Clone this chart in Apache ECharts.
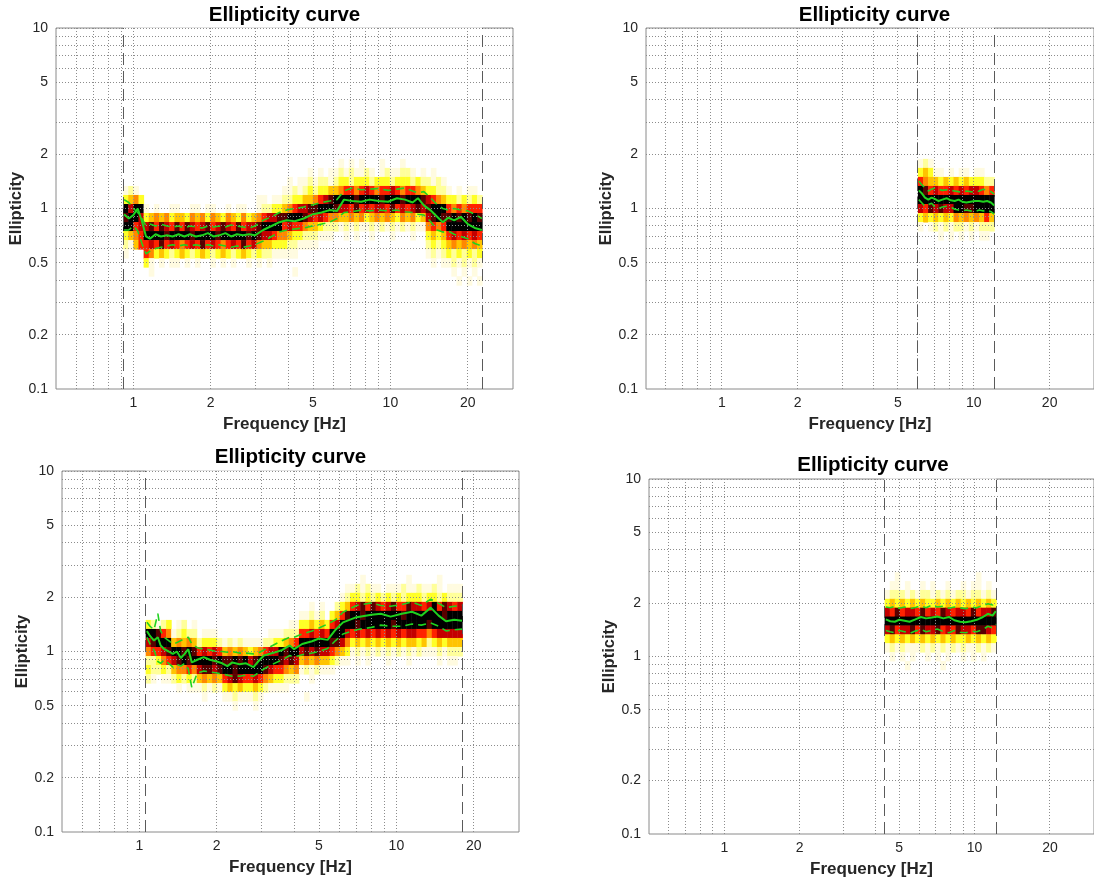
<!DOCTYPE html>
<html><head><meta charset="utf-8">
<script src="https://cdn.jsdelivr.net/npm/echarts@6/dist/echarts.min.js"></script>
<style>html,body{margin:0;padding:0;background:#fff}#c{width:1094px;height:882px}</style>
</head><body><div id="c"></div>
<script>
// ---------------- data ----------------
const xTickLabels = [1, 2, 5, 10, 20];
const yTickLabels = [0.1, 0.2, 0.5, 1, 2, 5, 10];
const xGridValues = [0.6, 0.7, 0.8, 0.9, 1, 2, 3, 4, 5, 6, 7, 8, 9, 10, 20];
const yGridValues = [0.2, 0.3, 0.4, 0.5, 0.6, 0.7, 0.8, 0.9, 1, 2, 3, 4, 5, 6, 7, 8, 9, 10];
const freqRange = [0.5, 30];
const ellRange = [0.1, 10];
const titleText = 'Ellipticity curve';
const xName = 'Frequency [Hz]';
const yName = 'Ellipticity';

// histogram rows: top row first; digit = density level (0 empty .. 9 black)
// row k is centred on ellipticity 10^(0.05*k)
const p1Limits = [0.912, 22.75];
const p1TopK = 5;
const p1Rows = [
 "0000 0000000000000000000000 00000 000000 000001 0101000100010000 0000 0000000",
 "0000 0000000000000000000000 00000 000001 010112 1211210121122101 0100 0000000",
 "0000 0000000000000000000000 00000 010112 122123 3233323332333232 2121 0000000",
 "1210 0000000000000000000000 00000 112123 233445 6656765667656654 3322 1010110",
 "3453 0000000000000000000000 11011 223344 567899 9989999899989998 7654 3323232",
 "9799 1010011001101100101100 12233 456778 899987 7686767768676787 8999 6565666",
 "8997 3454534435453543543534 56778 899987 676554 4545345454354534 7898 8989898",
 "9967 7868768687678678768677 89999 676654 432221 2121121212121211 5656 9999999",
 "3456 9999899998999989999989 87765 543322 211100 1010010001000100 3434 6767676",
 "2146 6768676567686765676867 54433 322111 100000 0000000000000000 2323 4545454",
 "1000 6534323432343234323432 32211 111000 000000 0000000000000000 1212 3232323",
 "0000 3101011010100101010010 10100 000000 000000 0000000000000000 0101 1212121",
 "0000 0100000000000000000000 00000 001000 000000 0000000000000000 0000 0101010",
 "0000 0000000000000000000000 00000 000000 000000 0000000000000000 0000 0010101"
];
const p1Freq   = [0.92,0.96,1.0,1.04,1.08,1.12,1.16,1.22,1.28,1.35,1.42,1.5,1.58,1.66,1.75,1.85,1.95,2.05,2.16,2.28,2.4,2.53,2.67,2.82,2.97,3.2,3.45,3.7,3.95,4.25,4.6,5.0,5.4,5.8,6.2,6.6,7.1,7.7,8.3,9.0,9.8,10.6,11.4,12.2,12.8,13.5,14.3,15.2,16.0,16.8,17.7,18.8,20.0,21.3,22.7];
const p1Median = [0.93,0.88,0.92,1.0,0.85,0.70,0.68,0.72,0.70,0.71,0.70,0.72,0.70,0.72,0.70,0.71,0.73,0.70,0.71,0.73,0.70,0.72,0.71,0.72,0.71,0.76,0.80,0.84,0.86,0.85,0.88,0.93,0.95,0.98,0.97,1.12,1.10,1.09,1.12,1.10,1.09,1.14,1.12,1.08,1.14,1.04,0.98,0.90,0.84,0.89,0.86,0.90,0.82,0.78,0.76];
const p1Upper  = [1.12,1.08,1.0,0.95,0.88,0.80,0.82,0.80,0.82,0.80,0.79,0.80,0.78,0.80,0.79,0.78,0.80,0.79,0.80,0.79,0.81,0.80,0.79,0.78,0.80,0.86,0.90,0.95,0.98,1.0,1.02,1.05,1.08,1.10,1.12,1.25,1.30,1.27,1.28,1.29,1.26,1.28,1.30,1.25,1.22,1.24,1.15,1.05,1.0,0.98,1.0,0.98,0.97,0.93,0.88];
const p1Lower  = [0.76,0.76,0.80,0.75,0.64,0.56,0.58,0.60,0.61,0.62,0.63,0.62,0.63,0.62,0.63,0.62,0.63,0.62,0.63,0.62,0.61,0.62,0.61,0.62,0.63,0.66,0.70,0.74,0.76,0.77,0.78,0.80,0.82,0.84,0.88,0.95,0.96,0.98,0.97,0.98,0.97,0.98,0.96,0.95,0.93,0.92,0.85,0.76,0.74,0.75,0.72,0.70,0.68,0.64,0.62];

const p2Limits = [6.0, 12.06];
const p2TopK = 5;
const p2Rows = [
 "121000000000000",
 "343110101101100",
 "654434343433322",
 "986766767677656",
 "999999999999999",
 "768787799889999",
 "343434354545464",
 "101212122121222",
 "000010101010110"
];
const p2Freq   = [6.05,6.2,6.4,6.6,6.8,7.0,7.25,7.5,7.8,8.1,8.4,8.7,9.0,9.35,9.7,10.1,10.5,10.9,11.3,11.7,12.05];
const p2Median = [1.26,1.22,1.15,1.12,1.15,1.13,1.10,1.12,1.14,1.11,1.10,1.12,1.09,1.08,1.09,1.10,1.10,1.09,1.10,1.08,1.04];
const p2Upper  = [1.42,1.36,1.30,1.25,1.28,1.30,1.28,1.26,1.27,1.26,1.25,1.24,1.23,1.25,1.24,1.23,1.25,1.28,1.26,1.24,1.20];
const p2Lower  = [1.12,1.08,1.03,1.05,1.07,1.02,1.00,1.02,1.03,1.02,0.99,0.98,0.97,0.98,0.97,0.96,0.98,0.97,0.98,0.96,0.93];

const p3Limits = [1.058, 18.07];
const p3TopK = 8;
const p3Rows = [
 "00000 00000 00000 00000 00000 00000 00000 00000 00100 00000 01000 00100 00",
 "00000 00000 00000 00000 00000 00000 00000 00001 12121 10111 21121 12101 11",
 "00000 00000 00000 00000 00000 00000 00000 00012 33232 32323 23332 33232 22",
 "00000 00000 00000 00000 00000 00000 00101 00234 67868 76786 68776 79687 67",
 "00000 00000 00000 00000 00000 00000 11212 03468 99899 99999 89999 99989 99",
 "32123 01201 00000 00000 00000 00011 33434 36799 98999 99989 99999 89999 99",
 "99865 12322 01110 00000 00001 11222 66767 69997 67676 76767 67766 56777 77",
 "78999 45454 23332 12121 11122 33456 99999 98875 34343 43434 34434 23434 44",
 "56678 99898 67676 45454 34567 79899 78787 76543 12121 21212 12121 11212 22",
 "22356 78989 99989 88989 78999 98787 45454 43211 01010 00100 01000 00101 10",
 "32232 45565 78878 99899 99987 66545 12121 11000 00000 00000 00000 00000 00",
 "21011 23232 45454 67876 67654 33222 00100 00000 00000 00000 00000 00000 00",
 "00000 01011 12121 34343 34321 11100 00000 00000 00000 00000 00000 00000 00",
 "00000 00000 01000 11211 12100 00000 01000 00000 00000 00000 00000 00000 00",
 "00000 00000 00000 00100 01000 00000 00000 00000 00000 00000 00000 00000 00"
];
const p3Freq   = [1.07,1.10,1.14,1.18,1.21,1.25,1.30,1.35,1.40,1.45,1.50,1.55,1.60,1.68,1.78,1.88,2.00,2.10,2.20,2.30,2.45,2.60,2.78,2.90,3.05,3.30,3.60,3.85,4.00,4.30,4.70,5.00,5.40,5.80,6.20,7.00,8.00,8.70,9.50,10.5,11.5,12.5,13.6,14.6,15.6,16.8,18.0];
const p3Median = [1.30,1.22,1.15,1.20,1.08,1.03,1.00,0.97,1.00,0.92,0.97,1.03,0.87,0.90,0.93,0.90,0.88,0.86,0.83,0.87,0.85,0.86,0.82,0.88,0.95,0.98,1.02,1.08,1.03,1.10,1.14,1.18,1.16,1.32,1.45,1.55,1.60,1.62,1.56,1.62,1.66,1.58,1.75,1.58,1.47,1.50,1.48];
const p3Upper  = [1.45,1.38,1.32,1.62,1.30,1.20,1.15,1.10,1.12,1.15,1.18,1.20,1.10,1.05,1.03,1.02,1.00,1.00,0.99,1.00,0.98,0.98,0.97,0.98,1.02,1.08,1.15,1.20,1.20,1.25,1.30,1.35,1.42,1.50,1.65,1.80,1.86,1.80,1.78,1.82,1.88,1.80,1.95,1.85,1.75,1.78,1.80];
const p3Lower  = [1.20,1.10,1.02,0.88,0.86,0.90,0.86,0.82,0.85,0.83,0.86,0.80,0.63,0.76,0.78,0.77,0.76,0.75,0.74,0.73,0.73,0.74,0.73,0.76,0.80,0.85,0.90,0.95,0.93,0.96,0.98,1.00,1.04,1.15,1.25,1.32,1.36,1.40,1.38,1.38,1.42,1.40,1.44,1.38,1.30,1.32,1.33];

const p4Limits = [4.37, 12.2];
const p4TopK = 9;
const p4Rows = [
 "0010000000000000001000",
 "0110100101001001011010",
 "1222121221212122122121",
 "3434343433434343434343",
 "7686776867687677686778",
 "9999999999999999999999",
 "7867786877867687768876",
 "3434343434343433434343",
 "1212111212121212112121",
 "0101010010101001010100",
 "0000100000010000000000"
];
const p4Freq   = [4.42,4.6,4.8,5.0,5.25,5.5,5.8,6.1,6.4,6.75,7.1,7.5,7.9,8.3,8.75,9.2,9.7,10.2,10.8,11.3,11.8,12.15];
const p4Median = [1.62,1.58,1.57,1.61,1.59,1.57,1.62,1.67,1.64,1.66,1.68,1.64,1.67,1.60,1.57,1.56,1.58,1.61,1.67,1.74,1.70,1.80];
const p4Upper  = [1.90,1.88,1.92,1.87,1.90,1.86,1.89,1.93,1.88,1.95,1.90,1.92,1.87,1.90,1.88,1.86,1.90,1.88,1.94,1.98,1.95,2.05];
const p4Lower  = [1.40,1.38,1.36,1.40,1.38,1.35,1.39,1.42,1.38,1.40,1.43,1.38,1.36,1.40,1.37,1.36,1.39,1.38,1.42,1.48,1.45,1.52];

// ---------------- layout / style ----------------
const ROW = 0.05;
const CMAP = ['', '#fffbe0', '#ffff9a', '#ffff26', '#ffc400', '#ff8800', '#ff2200', '#c40000', '#580000', '#000000'];
const FONT = "'Liberation Sans', Arial, Helvetica, sans-serif";
const GREEN = '#1fd21f';
const L = Math.log10;
const X0 = L(freqRange[0]), X1 = L(freqRange[1]), Y0 = L(ellRange[0]), Y1 = L(ellRange[1]);

const panels = [
  {grid:{left:56, top:28, width:457, height:361}, tpos:[284.5,15], lim:p1Limits, rows:p1Rows, topK:p1TopK, f:p1Freq, med:p1Median, up:p1Upper, lo:p1Lower},
  {grid:{left:646, top:28, width:457, height:361}, tpos:[874.5,15], lim:p2Limits, rows:p2Rows, topK:p2TopK, f:p2Freq, med:p2Median, up:p2Upper, lo:p2Lower},
  {grid:{left:62, top:471, width:457, height:361}, tpos:[290.5,457], lim:p3Limits, rows:p3Rows, topK:p3TopK, f:p3Freq, med:p3Median, up:p3Upper, lo:p3Lower},
  {grid:{left:649, top:479, width:448, height:355}, tpos:[873,465], lim:p4Limits, rows:p4Rows, topK:p4TopK, f:p4Freq, med:p4Median, up:p4Upper, lo:p4Lower}
];

function heatCells(rows, topK, lim) {
  const clean = rows.map(r => r.replace(/\s+/g, ''));
  const n = Math.max(...clean.map(r => r.length));
  const l0 = L(lim[0]), l1 = L(lim[1]);
  const w = (l1 - l0) / n;
  const cells = [];
  clean.forEach((r, ri) => {
    const k = topK - ri;
    for (let i = 0; i < r.length; i++) {
      const v = +r[i];
      if (v > 0) cells.push([l0 + (i + 0.5) * w, k * ROW, v, l0 + i * w, l0 + (i + 1) * w]);
    }
  });
  return cells;
}
const fmt = v => { const x = Math.pow(10, v); return x < 1 ? x.toFixed(1) : String(Math.round(x)); };
const snap = v => Math.round(v - 0.5) + 0.5;

const option = {animation:false, backgroundColor:'#fff', grid:[], xAxis:[], yAxis:[], series:[], graphic:[]};

panels.forEach((p, idx) => {
  option.grid.push(Object.assign({show:true, borderColor:'#8a8a8a', borderWidth:1, backgroundColor:'transparent'}, p.grid));
  option.xAxis.push({
    type:'value', gridIndex:idx, min:X0, max:X1,
    axisLine:{show:false}, axisTick:{show:false}, splitLine:{show:false},
    axisLabel:{customValues:xTickLabels.map(L), formatter:fmt, color:'#262626', fontSize:14, fontFamily:FONT, margin:7},
    name:xName, nameLocation:'middle', nameGap:27,
    nameTextStyle:{fontWeight:'bold', fontSize:17, color:'#262626', fontFamily:FONT}
  });
  option.yAxis.push({
    type:'value', gridIndex:idx, min:Y0, max:Y1,
    axisLine:{show:false}, axisTick:{show:false}, splitLine:{show:false},
    axisLabel:{customValues:yTickLabels.map(L), formatter:fmt, color:'#262626', fontSize:14, fontFamily:FONT, margin:8},
    name:yName, nameLocation:'middle', nameGap:29,
    nameTextStyle:{fontWeight:'bold', fontSize:16.5, color:'#262626', fontFamily:FONT}
  });
  // histogram
  option.series.push({
    type:'custom', xAxisIndex:idx, yAxisIndex:idx, z:1, silent:true,
    data:heatCells(p.rows, p.topK, p.lim),
    renderItem:(params, api) => {
      const a = api.coord([api.value(3), api.value(1) + ROW / 2]);
      const b = api.coord([api.value(4), api.value(1) - ROW / 2]);
      return {type:'rect', shape:{x:a[0], y:a[1], width:b[0] - a[0] + 0.5, height:b[1] - a[1] + 0.5},
              style:{fill:CMAP[api.value(2)]}};
    }
  });
  // top edge hidden by the histogram image between the limits
  option.series.push({
    type:'custom', xAxisIndex:idx, yAxisIndex:idx, z:2, silent:true,
    data:[[L(p.lim[0]), L(p.lim[1])]],
    renderItem:(params, api) => {
      const a = api.coord([api.value(0), Y1]);
      const b = api.coord([api.value(1), Y1]);
      return {type:'line', shape:{x1:a[0], y1:snap(a[1]), x2:b[0], y2:snap(b[1])}, style:{stroke:'#fff', lineWidth:2}};
    }
  });
  // dotted log grid
  const gl = xGridValues.map(v => [0, L(v)]).concat(yGridValues.map(v => [1, L(v)]));
  option.series.push({
    type:'custom', xAxisIndex:idx, yAxisIndex:idx, z:3, silent:true, data:gl,
    renderItem:(params, api) => {
      const o = api.value(0), v = api.value(1);
      let a, b;
      if (o === 0) { a = api.coord([v, Y0]); b = api.coord([v, Y1]); a[0] = b[0] = snap(a[0]); }
      else { a = api.coord([X0, v]); b = api.coord([X1, v]); a[1] = b[1] = snap(a[1]); }
      return {type:'line', shape:{x1:a[0], y1:a[1], x2:b[0], y2:b[1]}, style:{stroke:'#8c8c8c', lineWidth:1, lineDash:[1, 2]}};
    }
  });
  // frequency limits (dashed)
  option.series.push({
    type:'custom', xAxisIndex:idx, yAxisIndex:idx, z:4, silent:true,
    data:p.lim.map(v => [L(v), 0]),
    renderItem:(params, api) => {
      const a = api.coord([api.value(0), Y0]);
      const b = api.coord([api.value(0), Y1]);
      const x = snap(a[0]);
      return {type:'line', shape:{x1:x, y1:a[1], x2:x, y2:b[1]}, style:{stroke:'#5a5a5a', lineWidth:1, lineDash:[12, 6]}};
    }
  });
  const mk = arr => p.f.map((f, i) => [L(f), L(arr[i])]);
  option.series.push({type:'line', xAxisIndex:idx, yAxisIndex:idx, z:6, silent:true, symbol:'none',
    data:mk(p.med), lineStyle:{color:GREEN, width:2}});
  option.series.push({type:'line', xAxisIndex:idx, yAxisIndex:idx, z:5, silent:true, symbol:'none',
    data:mk(p.up), lineStyle:{color:GREEN, width:1.6, type:[8, 5]}});
  option.series.push({type:'line', xAxisIndex:idx, yAxisIndex:idx, z:5, silent:true, symbol:'none',
    data:mk(p.lo), lineStyle:{color:GREEN, width:1.6, type:[8, 5]}});
  option.graphic.push({type:'text', x:p.tpos[0], y:p.tpos[1], z:10,
    style:{text:titleText, align:'center', verticalAlign:'middle', fill:'#000', font:"bold 20.5px " + FONT}});
});

const chart = echarts.init(document.getElementById('c'), null, {renderer:'canvas'});
chart.setOption(option);
</script>
</body></html>
